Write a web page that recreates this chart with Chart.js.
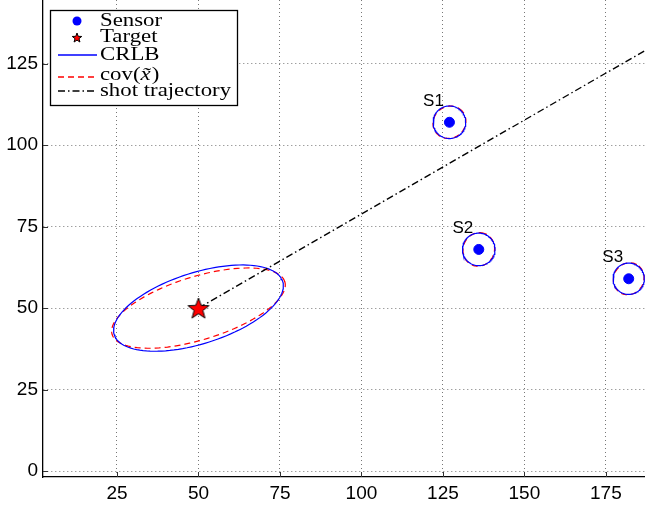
<!DOCTYPE html>
<html>
<head>
<meta charset="utf-8">
<script src="https://cdn.jsdelivr.net/npm/chart.js@4.4.0/dist/chart.umd.min.js"></script>
<style>
html, body { margin: 0; padding: 0; background: #fff; }
</style>
</head>
<body>
<canvas id="chart" width="645" height="506"></canvas>
<script>
// sensor positions
const sensorNames = ["S1", "S2", "S3"];
const sensorX = [127, 136, 182];
const sensorY = [107, 68, 59];

// target
const targetX = [50];
const targetY = [50];

// ellipses: target first, then S1..S3 (center, semi axes, tilt in degrees)
const ellCx = [50, 127, 136, 182];
const ellCy = [50, 107, 68, 59];
const crlbA = [27.1, 5.0, 5.0, 4.8];
const crlbB = [10.9, 5.0, 5.0, 4.8];
const crlbAngle = [17.6, 0, 0, 0];
const covA = [27.7, 5.2, 5.2, 5.0];
const covB = [9.7, 4.8, 4.8, 4.6];
const covAngle = [17.0, 40, 70, 60];

// shot trajectory
const trajX = [50, 187];
const trajY = [50, 129];

const xTicks = [25, 50, 75, 100, 125, 150, 175];
const yTicks = [0, 25, 50, 75, 100, 125];

function ellipse(cx, cy, a, b, deg) {
    const pts = [];
    const p = deg * Math.PI / 180;
    for (let i = 0; i <= 120; i++) {
        const t = i / 120 * 2 * Math.PI;
        pts.push({
            x: cx + a * Math.cos(t) * Math.cos(p) - b * Math.sin(t) * Math.sin(p),
            y: cy + a * Math.cos(t) * Math.sin(p) + b * Math.sin(t) * Math.cos(p)
        });
    }
    return pts;
}

function makeStar(r) {
    const c = document.createElement("canvas");
    const s = Math.ceil(r * 2 + 4);
    c.width = s; c.height = s;
    const g = c.getContext("2d");
    g.beginPath();
    for (let i = 0; i < 10; i++) {
        const rr = i % 2 === 0 ? r : r * 0.42;
        const a = -Math.PI / 2 + i * Math.PI / 5;
        const px = s / 2 + rr * Math.cos(a);
        const py = s / 2 + 1 + rr * Math.sin(a);
        if (i === 0) g.moveTo(px, py); else g.lineTo(px, py);
    }
    g.closePath();
    g.fillStyle = "#ff0000";
    g.fill();
    g.lineWidth = 1;
    g.strokeStyle = "#000";
    g.stroke();
    return c;
}

const bigStar = makeStar(11);
const smallStar = makeStar(5);

const datasets = [];

datasets.push({
    label: "Sensor",
    data: sensorX.map((x, i) => ({ x: x, y: sensorY[i] })),
    pointStyle: "circle",
    pointRadius: 5,
    backgroundColor: "#0000ff",
    borderColor: "#0000ff",
    showLine: false,
    order: 0
});

datasets.push({
    label: "Target",
    data: targetX.map((x, i) => ({ x: x, y: targetY[i] })),
    pointStyle: bigStar,
    pointRadius: 11,
    showLine: false,
    order: 0
});

ellCx.forEach((cx, i) => {
    datasets.push({
        label: "CRLB",
        data: ellipse(cx, ellCy[i], crlbA[i], crlbB[i], crlbAngle[i]),
        showLine: true,
        borderColor: "#0000ff",
        borderWidth: 1.2,
        pointRadius: 0,
        order: 2
    });
    datasets.push({
        label: "cov",
        data: ellipse(cx, ellCy[i], covA[i], covB[i], covAngle[i]),
        showLine: true,
        borderColor: "#ff0000",
        borderWidth: 1.2,
        borderDash: [6, 4],
        pointRadius: 0,
        order: 3
    });
});

datasets.push({
    label: "shot trajectory",
    data: trajX.map((x, i) => ({ x: x, y: trajY[i] })),
    showLine: true,
    borderColor: "#000000",
    borderWidth: 1.4,
    borderDash: [7, 3, 1.5, 3],
    pointRadius: 0,
    order: 1
});

// small inward ticks, MATLAB style
const innerTicks = {
    id: "innerTicks",
    afterDraw(chart) {
        const ctx = chart.ctx;
        const a = chart.chartArea;
        const xs = chart.scales.x, ys = chart.scales.y;
        ctx.save();
        ctx.strokeStyle = "#333";
        ctx.lineWidth = 1;
        ctx.beginPath();
        xTicks.forEach(v => {
            const px = Math.round(xs.getPixelForValue(v)) + 0.5;
            ctx.moveTo(px, a.bottom);
            ctx.lineTo(px, a.bottom - 5);
        });
        yTicks.forEach(v => {
            const py = Math.round(ys.getPixelForValue(v)) + 0.5;
            ctx.moveTo(a.left, py);
            ctx.lineTo(a.left + 5, py);
        });
        ctx.stroke();
        ctx.restore();
    }
};

const sensorLabels = {
    id: "sensorLabels",
    afterDatasetsDraw(chart) {
        const ctx = chart.ctx;
        ctx.save();
        ctx.font = '17px "Liberation Sans", Arial, sans-serif';
        ctx.fillStyle = "#000";
        ctx.textAlign = "center";
        ctx.textBaseline = "middle";
        sensorNames.forEach((n, i) => {
            const px = chart.scales.x.getPixelForValue(sensorX[i]);
            const py = chart.scales.y.getPixelForValue(sensorY[i]);
            ctx.fillText(n, px - 16, py - 21);
        });
        ctx.restore();
    }
};

const SERIF = '"Liberation Serif", "Times New Roman", serif';
const STRETCH = 1.2;

function wideText(ctx, str, x, y, italic) {
    ctx.save();
    ctx.font = (italic ? "italic " : "") + "19px " + SERIF;
    ctx.translate(x, y);
    ctx.scale(STRETCH, 1);
    ctx.fillText(str, 0, 0);
    const w = ctx.measureText(str).width * STRETCH;
    ctx.restore();
    return w;
}

const boxLegend = {
    id: "boxLegend",
    afterDraw(chart) {
        const ctx = chart.ctx;
        ctx.save();
        ctx.fillStyle = "#fff";
        ctx.fillRect(50, 10, 188, 96);
        ctx.strokeStyle = "#000";
        ctx.lineWidth = 1.3;
        ctx.strokeRect(50.5, 10.5, 187, 95);

        const x0 = 58, x1 = 97, xm = 77, tx = 100;
        ctx.fillStyle = "#000";
        ctx.textBaseline = "middle";

        // Sensor
        ctx.beginPath();
        ctx.arc(xm, 21, 4.5, 0, Math.PI * 2);
        ctx.fillStyle = "#0000ff";
        ctx.fill();
        ctx.fillStyle = "#000";
        wideText(ctx, "Sensor", tx, 21);

        // Target
        ctx.drawImage(smallStar, xm - smallStar.width / 2, 37 - smallStar.height / 2);
        wideText(ctx, "Target", tx, 37);

        // CRLB
        ctx.beginPath();
        ctx.strokeStyle = "#0000ff";
        ctx.lineWidth = 1.5;
        ctx.moveTo(x0, 55); ctx.lineTo(x1, 55);
        ctx.stroke();
        wideText(ctx, "CRLB", tx, 55);

        // cov
        ctx.beginPath();
        ctx.strokeStyle = "#ff0000";
        ctx.setLineDash([6, 4]);
        ctx.moveTo(x0, 77); ctx.lineTo(x1, 77);
        ctx.stroke();
        let cx = tx;
        cx += wideText(ctx, "cov(", cx, 75);
        cx += wideText(ctx, "x\u0303", cx, 75, true) + 1;
        wideText(ctx, ")", cx, 75);

        // shot trajectory
        ctx.beginPath();
        ctx.strokeStyle = "#000";
        ctx.setLineDash([7, 3, 1.5, 3]);
        ctx.moveTo(x0, 91); ctx.lineTo(x1, 91);
        ctx.stroke();
        ctx.setLineDash([]);
        wideText(ctx, "shot trajectory", tx, 91);
        ctx.restore();
    }
};

new Chart(document.getElementById("chart"), {
    type: "scatter",
    data: { datasets: datasets },
    options: {
        responsive: false,
        animation: false,
        devicePixelRatio: 1,
        layout: { padding: 0, autoPadding: false },
        plugins: {
            legend: { display: false },
            tooltip: { enabled: false }
        },
        scales: {
            x: {
                type: "linear",
                min: 2.3,
                max: 187,
                afterBuildTicks: s => { s.ticks = xTicks.map(v => ({ value: v })); },
                afterFit: s => { s.height = 29; s.paddingLeft = 0; s.paddingRight = 0; },
                grid: { color: "#777", lineWidth: 1, drawTicks: false },
                border: { color: "#000", width: 1.3, dash: [1, 3] },
                ticks: {
                    color: "#000",
                    padding: 5,
                    maxRotation: 0,
                    font: { family: '"Liberation Sans", Arial, sans-serif', size: 19 }
                }
            },
            y: {
                type: "linear",
                min: -1.8,
                max: 144.5,
                afterBuildTicks: s => { s.ticks = yTicks.map(v => ({ value: v })); },
                afterFit: s => { s.width = 43; s.paddingTop = 0; s.paddingBottom = 0; },
                grid: { color: "#777", lineWidth: 1, drawTicks: false },
                border: { color: "#000", width: 1.3, dash: [1, 3] },
                ticks: {
                    color: "#000",
                    padding: 5,
                    font: { family: '"Liberation Sans", Arial, sans-serif', size: 19 }
                }
            }
        }
    },
    plugins: [innerTicks, sensorLabels, boxLegend]
});
</script>
</body>
</html>
